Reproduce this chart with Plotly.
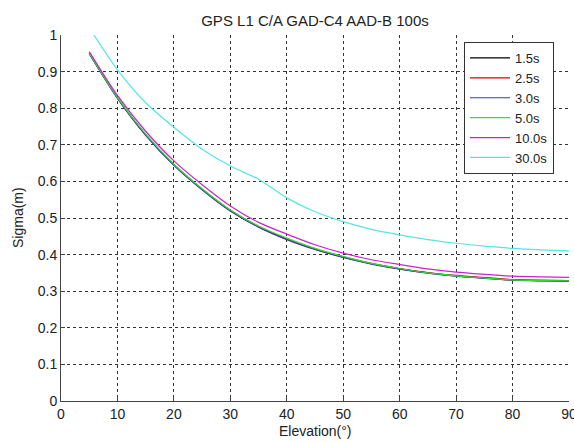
import plotly.graph_objects as go

elevation = [5, 10, 15, 20, 25, 30, 35, 40, 45, 50, 55, 60, 65, 70, 75, 80, 85, 90]

sigma_1_5s = [0.950, 0.828, 0.727, 0.645, 0.578, 0.520, 0.476, 0.442, 0.415, 0.393, 0.375, 0.361, 0.350, 0.342, 0.336, 0.331, 0.329, 0.328]
sigma_2_5s = [0.951, 0.829, 0.728, 0.646, 0.579, 0.521, 0.477, 0.443, 0.416, 0.394, 0.376, 0.362, 0.351, 0.343, 0.337, 0.332, 0.330, 0.329]
sigma_3_0s = [0.949, 0.827, 0.726, 0.644, 0.577, 0.519, 0.475, 0.441, 0.414, 0.392, 0.374, 0.360, 0.349, 0.341, 0.335, 0.330, 0.328, 0.327]
sigma_5_0s = [0.950, 0.829, 0.729, 0.647, 0.580, 0.522, 0.478, 0.445, 0.417, 0.395, 0.376, 0.362, 0.350, 0.342, 0.336, 0.331, 0.329, 0.328]
sigma_10_0s = [0.955, 0.835, 0.737, 0.656, 0.591, 0.533, 0.488, 0.456, 0.427, 0.404, 0.386, 0.373, 0.361, 0.352, 0.346, 0.341, 0.339, 0.338]
sigma_30_0s = [1.020, 0.905, 0.815, 0.748, 0.688, 0.642, 0.606, 0.555, 0.517, 0.490, 0.469, 0.454, 0.441, 0.431, 0.423, 0.417, 0.413, 0.410]

series_names = ["1.5s", "2.5s", "3.0s", "5.0s", "10.0s", "30.0s"]
series_values = [sigma_1_5s, sigma_2_5s, sigma_3_0s, sigma_5_0s, sigma_10_0s, sigma_30_0s]
series_colors = ["#000000", "#e00000", "#3a3ab8", "#33dd33", "#cc22cc", "#55e5e5"]

x_ticks = [0, 10, 20, 30, 40, 50, 60, 70, 80, 90]
y_ticks = [0, 0.1, 0.2, 0.3, 0.4, 0.5, 0.6, 0.7, 0.8, 0.9, 1]
y_tick_labels = ["0", "0.1", "0.2", "0.3", "0.4", "0.5", "0.6", "0.7", "0.8", "0.9", "1"]

title_text = "GPS L1 C/A GAD-C4 AAD-B 100s"
x_title = "Elevation(°)"
y_title = "Sigma(m)"

fig = go.Figure()
for name, vals, col in zip(series_names, series_values, series_colors):
    fig.add_trace(go.Scatter(
        x=elevation, y=vals, name=name, mode="lines",
        line=dict(color=col, width=1.2, shape="spline", smoothing=0.8),
    ))

font_family = "Liberation Sans, Arial, sans-serif"
txt_color = "#222222"

L, R, T, B = 61, 5, 35, 41
W, H = 574, 442
pw, ph = W - L - R, H - T - B

fig.update_layout(
    width=W, height=H,
    margin=dict(l=L, r=R, t=T, b=B, autoexpand=False),
    paper_bgcolor="white", plot_bgcolor="white",
    font=dict(family=font_family, size=14, color=txt_color),
    title=dict(text=title_text, x=(L + (W - R)) / 2 / W, xanchor="center",
               y=1 - 20.5 / H, yanchor="middle", font=dict(size=15, color=txt_color)),
    showlegend=True,
    legend=dict(
        x=(464 - L) / pw, y=(H - B - 42) / ph, xanchor="left", yanchor="top",
        bordercolor="#333333", borderwidth=1, bgcolor="white",
        font=dict(size=13, color=txt_color),
        tracegroupgap=0, itemwidth=40,
    ),
    annotations=[
        dict(text=x_title, xref="paper", yref="paper", x=0.5, y=(H - B - 431) / ph,
             xanchor="center", yanchor="middle", showarrow=False,
             font=dict(size=14, color=txt_color)),
        dict(text=y_title, xref="paper", yref="paper", x=(18 - L) / pw, y=0.5,
             xanchor="center", yanchor="middle", showarrow=False, textangle=-90,
             font=dict(size=14, color=txt_color)),
    ],
)

fig.update_xaxes(
    range=[0, 90], tickvals=x_ticks, ticktext=[str(v) for v in x_ticks],
    showgrid=True, gridcolor="#333333", griddash="dot", gridwidth=1,
    showline=True, linecolor="#444444", linewidth=1,
    ticks="inside", ticklen=4, tickcolor="#444444",
    zeroline=False, automargin=False, ticklabeloverflow="allow",
)
fig.update_yaxes(
    range=[0, 1], tickvals=y_ticks, ticktext=y_tick_labels,
    showgrid=True, gridcolor="#333333", griddash="dot", gridwidth=1,
    showline=True, linecolor="#444444", linewidth=1,
    ticks="inside", ticklen=4, tickcolor="#444444",
    zeroline=False, automargin=False, ticklabeloverflow="allow",
)

fig.write_html(
    "out.html",
    config={"displayModeBar": False},
    post_script="document.body.style.margin='0';document.body.style.overflow='hidden';",
)
